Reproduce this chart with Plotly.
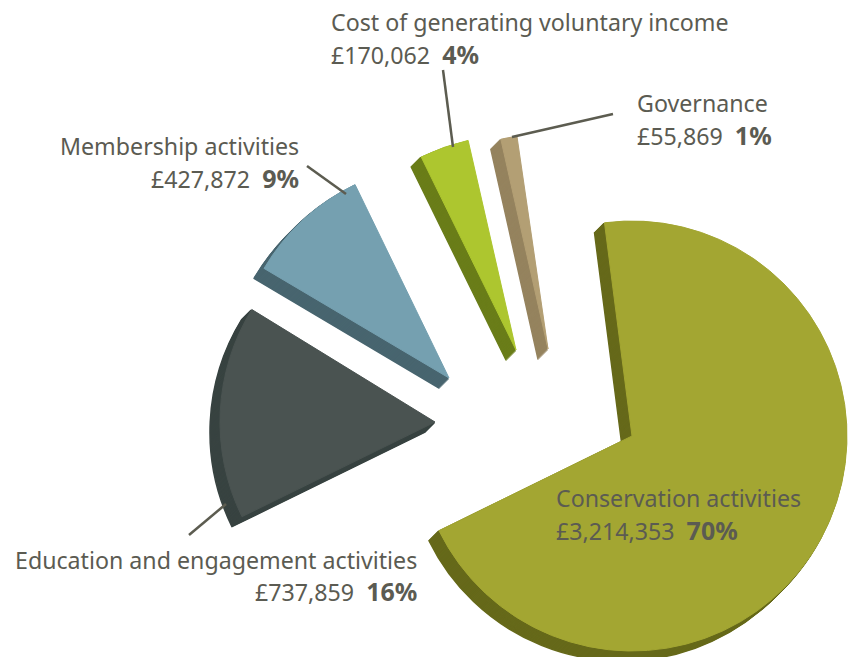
import plotly.graph_objects as go

W, H = 848, 672
labels = ["Conservation activities", "Education and engagement activities",
          "Membership activities", "Cost of generating voluntary income", "Governance"]
values = [3214353, 737859, 427872, 170062, 55869]
percents = ["70%", "16%", "9%", "4%", "1%"]
face_colors = ["#a3a632", "#4a5351", "#75a0b0", "#adc62f", "#b39f74"]
side_colors = ["#66691a", "#384341", "#48656f", "#6a7d19", "#95835e"]
apex_x = [632, 435, 449, 516, 548]
apex_y = [436, 422, 378, 350, 349]
rotations = [352.65, 352.65, 351.75, 351.5, 351.7]
radius = 215
depth = 10
FONT = "Noto Sans"
TEXT = "#5b5b52"

fig = go.Figure()


def slice_pie(i, cx, cy, color, edge):
    colors = ["rgba(0,0,0,0)"] * len(values)
    colors[i] = color
    widths = [0] * len(values)
    widths[i] = edge
    fig.add_trace(go.Pie(
        labels=labels, values=values, sort=False, direction="clockwise",
        rotation=rotations[i], textinfo="none", showlegend=False, hoverinfo="label+value",
        marker=dict(colors=colors, line=dict(width=widths, color=colors)),
        domain=dict(x=[(cx - radius) / W, min(1, (cx + radius) / W)],
                    y=[1 - (cy + radius) / H, 1 - (cy - radius) / H]),
    ))


for i in range(len(values)):
    for d in range(depth, 0, -1):
        slice_pie(i, apex_x[i] - d, apex_y[i] + d, side_colors[i], 1.5)
    slice_pie(i, apex_x[i], apex_y[i], face_colors[i], 1)

leaders = [(443, 70, 453, 147), (613, 114, 512, 137), (307, 166, 346, 194), (189, 535, 226, 504)]
for x0, y0, x1, y1 in leaders:
    fig.add_shape(type="line", xref="paper", yref="paper",
                  x0=x0 / W, y0=1 - y0 / H, x1=x1 / W, y1=1 - y1 / H,
                  line=dict(color="#5c5c50", width=2.5))

# text block anchors: index, x, first line y, second line y, anchor
blocks = [(0, 554, 498, 530, "left"), (1, 418.5, 560, 591, "right"), (2, 301, 146, 178, "right"),
          (3, 329, 22, 54, "left"), (4, 635, 103, 135, "left")]
for i, x, y1, y2, anchor in blocks:
    line2 = f"£{values[i]:,}  <b><span style=\"font-size:25px\">{percents[i]}</span></b>"
    for txt, y in ((labels[i], y1), (line2, y2)):
        fig.add_annotation(text=txt, xref="paper", yref="paper", x=x / W, y=1 - y / H,
                           xanchor=anchor, yanchor="middle", showarrow=False,
                           font=dict(family=FONT, size=23.2, color=TEXT))

fig.update_layout(width=W, height=H, margin=dict(l=0, r=0, t=0, b=0),
                  paper_bgcolor="white", showlegend=False)
fig.write_html("out.html", config=dict(displayModeBar=False),
               post_script="document.body.style.margin='0';document.documentElement.style.overflow='hidden';document.body.style.overflow='hidden';")
